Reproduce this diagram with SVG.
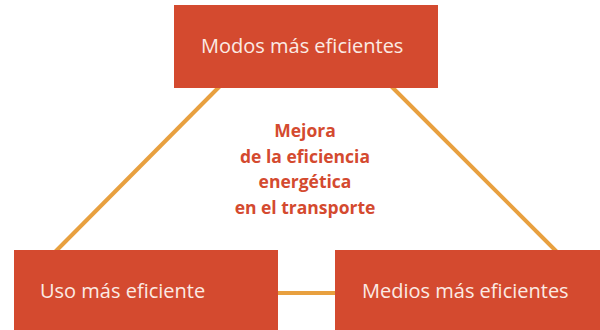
<svg xmlns="http://www.w3.org/2000/svg" width="600" height="330" viewBox="0 0 600 330">
<style>
.box{fill:#D44A2F;}
.lbl{font-family:"Open Sans","Liberation Sans",sans-serif;font-size:20px;fill:#FBEAE4;}
.conn{stroke:#E8A03F;stroke-width:4;fill:none;}
.ctr{font-family:"Open Sans","Liberation Sans",sans-serif;font-size:17.5px;font-weight:bold;fill:#D44A2F;text-anchor:middle;}
</style>
<rect width="600" height="330" fill="#ffffff"/>
<g id="connectors">
<line class="conn" x1="220" y1="86" x2="55" y2="252"/>
<line class="conn" x1="391" y1="86" x2="557" y2="252"/>
<line class="conn" x1="276" y1="293" x2="337" y2="293"/>
</g>
<g id="modos">
<rect class="box" x="174" y="5" width="264" height="83"/>
<text class="lbl" x="201" y="53">Modos más eficientes</text>
</g>
<g id="uso">
<rect class="box" x="14" y="250" width="264" height="80"/>
<text class="lbl" x="40" y="298">Uso más eficiente</text>
</g>
<g id="medios">
<rect class="box" x="335" y="250" width="265" height="80"/>
<text class="lbl" x="362" y="298">Medios más eficientes</text>
</g>
<g id="centro">
<text class="ctr" x="305" y="137">Mejora</text>
<text class="ctr" x="305" y="163">de la eficiencia</text>
<text class="ctr" x="305" y="188">energética</text>
<text class="ctr" x="305" y="214">en el transporte</text>
</g>
</svg>
